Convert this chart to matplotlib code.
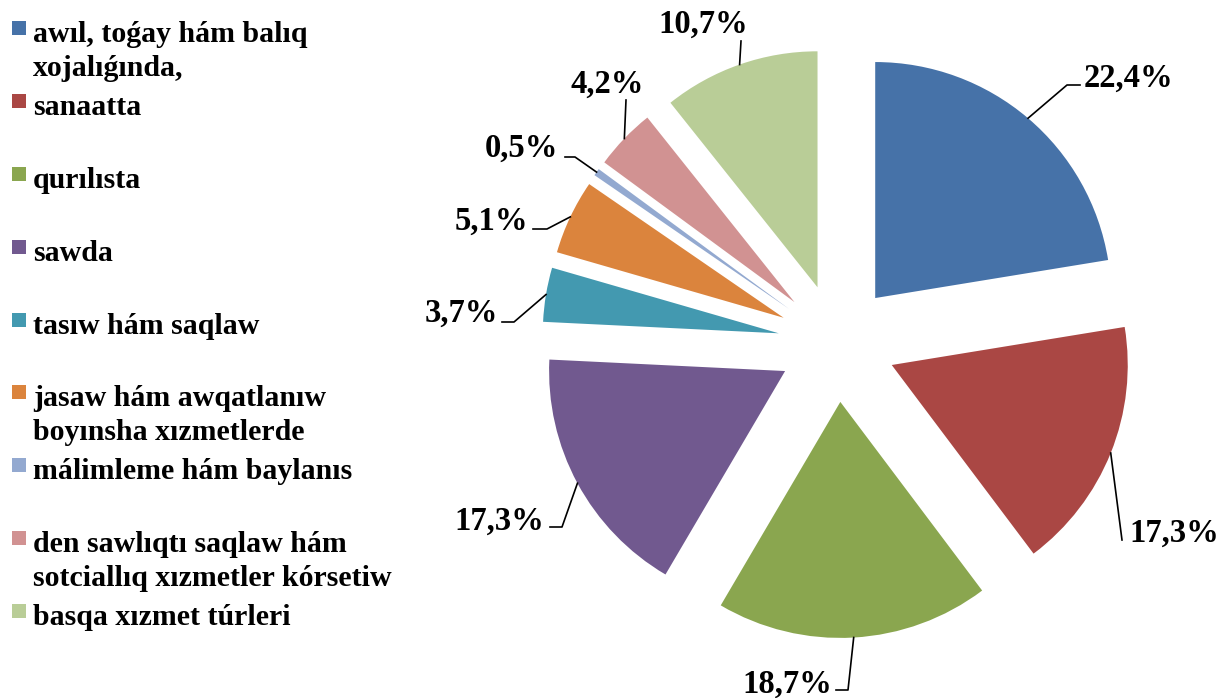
import numpy as np
import matplotlib.pyplot as plt
from matplotlib.patches import Rectangle

plt.rcParams['font.family'] = ['Liberation Serif', 'DejaVu Serif']
plt.rcParams['font.weight'] = 'bold'

# data
categories = ['awıl, toǵay hám balıq\nxojalıǵında,',
              'sanaatta',
              'qurılısta',
              'sawda',
              'tasıw hám saqlaw',
              'jasaw hám awqatlanıw\nboyınsha xızmetlerde',
              'málimleme hám baylanıs',
              'den sawlıqtı saqlaw hám\nsotciallıq xızmetler kórsetiw',
              'basqa xızmet túrleri']
values = [22.4, 17.3, 18.7, 17.3, 3.7, 5.1, 0.5, 4.2, 10.7]
pct_labels = ['22,4%', '17,3%', '18,7%', '17,3%', '3,7%', '5,1%', '0,5%', '4,2%', '10,7%']
colors = ['#4672A8', '#AA4744', '#8AA64F', '#71598F', '#4399B0',
          '#DB843D', '#93A9D0', '#D19292', '#B9CD97']

# figure in pixels: pie centre (837, 343), radius 236 px
W, H = 1218, 698
CX, CY, R = 837, 343, 236

fig = plt.figure(figsize=(W / 100, H / 100), dpi=100)
ax = fig.add_axes([0, 0, 1, 1])
ax.axis('off')


def px(x, y):
    # pixel (from top-left) -> data coords
    return (x - CX) / R, (CY - y) / R


wedges, _ = ax.pie(values, colors=colors, startangle=90, counterclock=False,
                   explode=[0.25] * len(values), radius=1,
                   wedgeprops=dict(linewidth=0))
ax.set_xlim(-CX / R, (W - CX) / R)
ax.set_ylim(-(H - CY) / R, CY / R)
ax.set_aspect('auto')

# label layout: text position (px), alignment, leader path after the anchor
label_pos = [(1084, 87, 'left', [(1067, 85), (1080, 85)]),
             (1129, 542, 'left', [(1122, 540)]),
             (832, 693, 'right', [(848, 690), (836, 690)]),
             (544, 530, 'right', [(562, 527), (550, 527)]),
             (498, 322, 'right', [(514, 322), (502, 322)]),
             (528, 230, 'right', [(547, 229), (533, 229)]),
             (558, 157, 'right', [(575, 157), (565, 157)]),
             (607, 93, 'center', [(626, 100)]),
             (703, 33, 'center', [(741, 41)])]

for w, lab, (tx, ty, ha, path) in zip(wedges, pct_labels, label_pos):
    mid = np.deg2rad((w.theta1 + w.theta2) / 2)
    ax_ = w.center[0] + w.r * np.cos(mid)
    ay_ = w.center[1] + w.r * np.sin(mid)
    pts = [(ax_, ay_)] + [px(x, y) for x, y in path]
    ax.plot([p[0] for p in pts], [p[1] for p in pts], color='black', lw=1.2)
    x, y = px(tx, ty)
    ax.text(x, y, lab, ha=ha, va='baseline', fontsize=23.5, fontweight='bold')

# legend drawn by hand
for i, (cat, c) in enumerate(zip(categories, colors)):
    top = 21 + i * 72.9
    x0, y0 = px(12, top + 14)
    ax.add_patch(Rectangle((x0, y0), 14 / R, 14 / R, facecolor=c, edgecolor='none'))
    for j, line in enumerate(cat.split('\n')):
        x, y = px(33, top + 21 + j * 34)
        ax.text(x, y, line, ha='left', va='baseline', fontsize=21.5, fontweight='bold')

plt.savefig('out.png', dpi=100)
